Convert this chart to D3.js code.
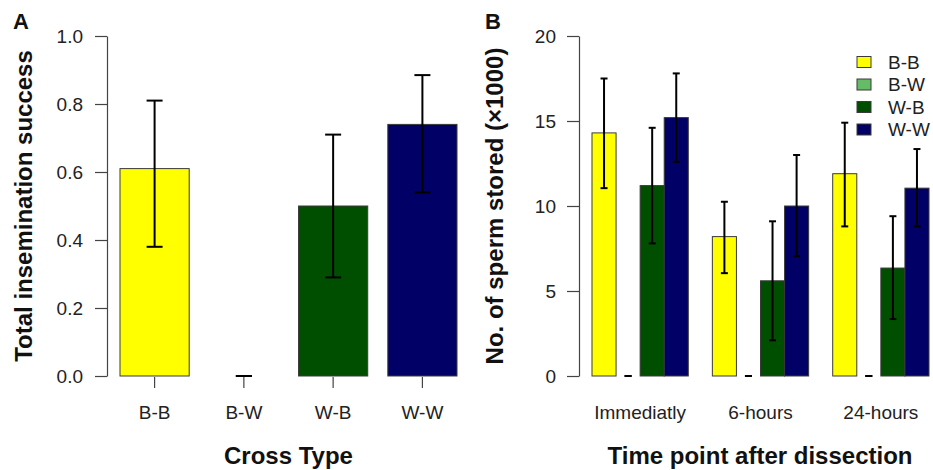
<!DOCTYPE html>
<html lang="en">
<head>
    <meta charset="UTF-8">
    <title>Insemination success and sperm storage</title>
    <style>
        body { margin: 0; background: #fff; }
        svg { display: block; font-family: "Liberation Sans", Arial, Helvetica, sans-serif; }
        .axis text { font-size: 19px; fill: #222; }
        .axis path, .axis line { stroke: #444; stroke-width: 1.2px; }
        .title { font-size: 24px; font-weight: bold; fill: #111; }
        .panel { font-size: 22px; font-weight: bold; fill: #111; }
        .bar { stroke: #3a3a3a; stroke-width: 1px; }
        .err { stroke: #000; stroke-width: 2px; fill: none; }
    </style>
</head>
<body>
<script src="https://d3js.org/d3.v7.min.js"></script>
<script>
// ---- data ----
var crossTypes = ["B-B", "B-W", "W-B", "W-W"];
var crossColors = ["#ffff00", "#66bb66", "#004f00", "#000066"];

// panel A: total insemination success
var successMean = [0.61, 0, 0.50, 0.74];
var successLow  = [0.38, 0, 0.29, 0.54];
var successHigh = [0.81, 0, 0.71, 0.885];
var successTicks = [0, 0.2, 0.4, 0.6, 0.8, 1.0];

// panel B: sperm stored (x1000), one array per cross type, ordered by time point
var timePoints = ["Immediatly", "6-hours", "24-hours"];
var spermMean = {
    "B-B": [14.3, 8.2, 11.9],
    "B-W": [0, 0, 0],
    "W-B": [11.2, 5.6, 6.35],
    "W-W": [15.2, 10.0, 11.05]
};
var spermLow = {
    "B-B": [11.05, 6.05, 8.8],
    "B-W": [0, 0, 0],
    "W-B": [7.8, 2.1, 3.35],
    "W-W": [12.6, 7.05, 8.8]
};
var spermHigh = {
    "B-B": [17.5, 10.25, 14.9],
    "B-W": [0, 0, 0],
    "W-B": [14.6, 9.1, 9.4],
    "W-W": [17.8, 13.0, 13.35]
};
var spermTicks = [0, 5, 10, 15, 20];

var width = 933, height = 470;

var svg = d3.select("body").append("svg")
    .attr("width", width)
    .attr("height", height);

var color = d3.scaleOrdinal(crossTypes, crossColors);

// ================= panel A =================
var yA = d3.scaleLinear([0, 1], [376, 36]);
var xA = d3.scaleBand(crossTypes, [120, 457]).paddingInner(0.225).paddingOuter(0);

var gA = svg.append("g");

gA.append("g")
    .attr("class", "axis")
    .attr("transform", "translate(107,0)")
    .call(d3.axisLeft(yA).tickValues(successTicks).tickFormat(d3.format(".1f"))
        .tickSize(12).tickSizeOuter(0).tickPadding(12));

var axA = gA.append("g")
    .attr("class", "axis")
    .attr("transform", "translate(0,377)")
    .call(d3.axisBottom(xA).tickSize(11).tickPadding(18));
axA.select(".domain").remove();

var dataA = crossTypes.map(function(c, i) {
    return {key: c, mean: successMean[i], lo: successLow[i], hi: successHigh[i]};
});

gA.selectAll("rect.bar")
    .data(dataA.filter(function(d) { return d.mean > 0; }))
  .join("rect")
    .attr("class", "bar")
    .attr("x", function(d) { return xA(d.key); })
    .attr("width", xA.bandwidth())
    .attr("y", function(d) { return yA(d.mean); })
    .attr("height", function(d) { return yA(0) - yA(d.mean); })
    .attr("fill", function(d) { return color(d.key); });

errorBars(gA, dataA, function(d) { return xA(d.key) + xA.bandwidth() / 2; }, yA, 8);

gA.append("text")
    .attr("class", "title")
    .attr("text-anchor", "middle")
    .attr("x", (120 + 457) / 2)
    .attr("y", 464)
    .text("Cross Type");

gA.append("text")
    .attr("class", "title")
    .attr("text-anchor", "middle")
    .attr("transform", "translate(32,206)rotate(-90)")
    .text("Total insemination success");

gA.append("text")
    .attr("class", "panel")
    .attr("x", 13)
    .attr("y", 29)
    .text("A");

// ================= panel B =================
var yB = d3.scaleLinear([0, 20], [376, 36]);
var xB0 = d3.scaleBand(timePoints, [592, 929]).paddingInner(0.2).paddingOuter(0);
var xB1 = d3.scaleBand(crossTypes, [0, xB0.bandwidth()]);

var gB = svg.append("g");

gB.append("g")
    .attr("class", "axis")
    .attr("transform", "translate(579,0)")
    .call(d3.axisLeft(yB).tickValues(spermTicks)
        .tickSize(12).tickSizeOuter(0).tickPadding(11));

var axB = gB.append("g")
    .attr("class", "axis")
    .attr("transform", "translate(0,377)")
    .call(d3.axisBottom(xB0).tickSize(0).tickPadding(29));
axB.select(".domain").remove();

var groups = gB.selectAll("g.grp")
    .data(timePoints)
  .join("g")
    .attr("class", "grp")
    .attr("transform", function(t) { return "translate(" + xB0(t) + ",0)"; });

groups.each(function(t, ti) {
    var g = d3.select(this);
    var rows = crossTypes.map(function(c) {
        return {key: c, mean: spermMean[c][ti], lo: spermLow[c][ti], hi: spermHigh[c][ti]};
    });
    g.selectAll("rect.bar")
        .data(rows.filter(function(d) { return d.mean > 0; }))
      .join("rect")
        .attr("class", "bar")
        .attr("x", function(d) { return xB1(d.key); })
        .attr("width", xB1.bandwidth())
        .attr("y", function(d) { return yB(d.mean); })
        .attr("height", function(d) { return yB(0) - yB(d.mean); })
        .attr("fill", function(d) { return color(d.key); });
    errorBars(g, rows, function(d) { return xB1(d.key) + xB1.bandwidth() / 2; }, yB, 3.5);
});

gB.append("text")
    .attr("class", "title")
    .attr("text-anchor", "middle")
    .attr("x", 760)
    .attr("y", 464)
    .text("Time point after dissection");

gB.append("text")
    .attr("class", "title")
    .attr("text-anchor", "middle")
    .attr("transform", "translate(503,206)rotate(-90)")
    .text("No. of sperm stored (\u00d71000)");

gB.append("text")
    .attr("class", "panel")
    .attr("x", 485)
    .attr("y", 29)
    .text("B");

// legend
var legend = gB.append("g")
    .attr("transform", "translate(857,62)")
  .selectAll("g")
    .data(crossTypes)
  .join("g")
    .attr("transform", function(d, i) { return "translate(0," + i * 22.5 + ")"; });

legend.append("rect")
    .attr("class", "bar")
    .attr("x", 0)
    .attr("y", -5.5)
    .attr("width", 14)
    .attr("height", 11)
    .attr("fill", function(d) { return color(d); });

legend.append("text")
    .attr("x", 31)
    .attr("dy", "0.35em")
    .style("font-size", "19px")
    .style("fill", "#222")
    .text(function(d) { return d; });

// ---- helpers ----
function errorBars(g, rows, cx, y, halfCap) {
    var eb = g.selectAll("g.eb")
        .data(rows)
      .join("g")
        .attr("class", "eb");
    eb.append("line")
        .attr("class", "err")
        .attr("x1", cx).attr("x2", cx)
        .attr("y1", function(d) { return y(d.lo); })
        .attr("y2", function(d) { return y(d.hi); });
    eb.append("line")
        .attr("class", "err")
        .attr("x1", function(d) { return cx(d) - halfCap; })
        .attr("x2", function(d) { return cx(d) + halfCap; })
        .attr("y1", function(d) { return y(d.hi); })
        .attr("y2", function(d) { return y(d.hi); });
    eb.append("line")
        .attr("class", "err")
        .attr("x1", function(d) { return cx(d) - halfCap; })
        .attr("x2", function(d) { return cx(d) + halfCap; })
        .attr("y1", function(d) { return y(d.lo); })
        .attr("y2", function(d) { return y(d.lo); });
}
</script>
</body>
</html>
